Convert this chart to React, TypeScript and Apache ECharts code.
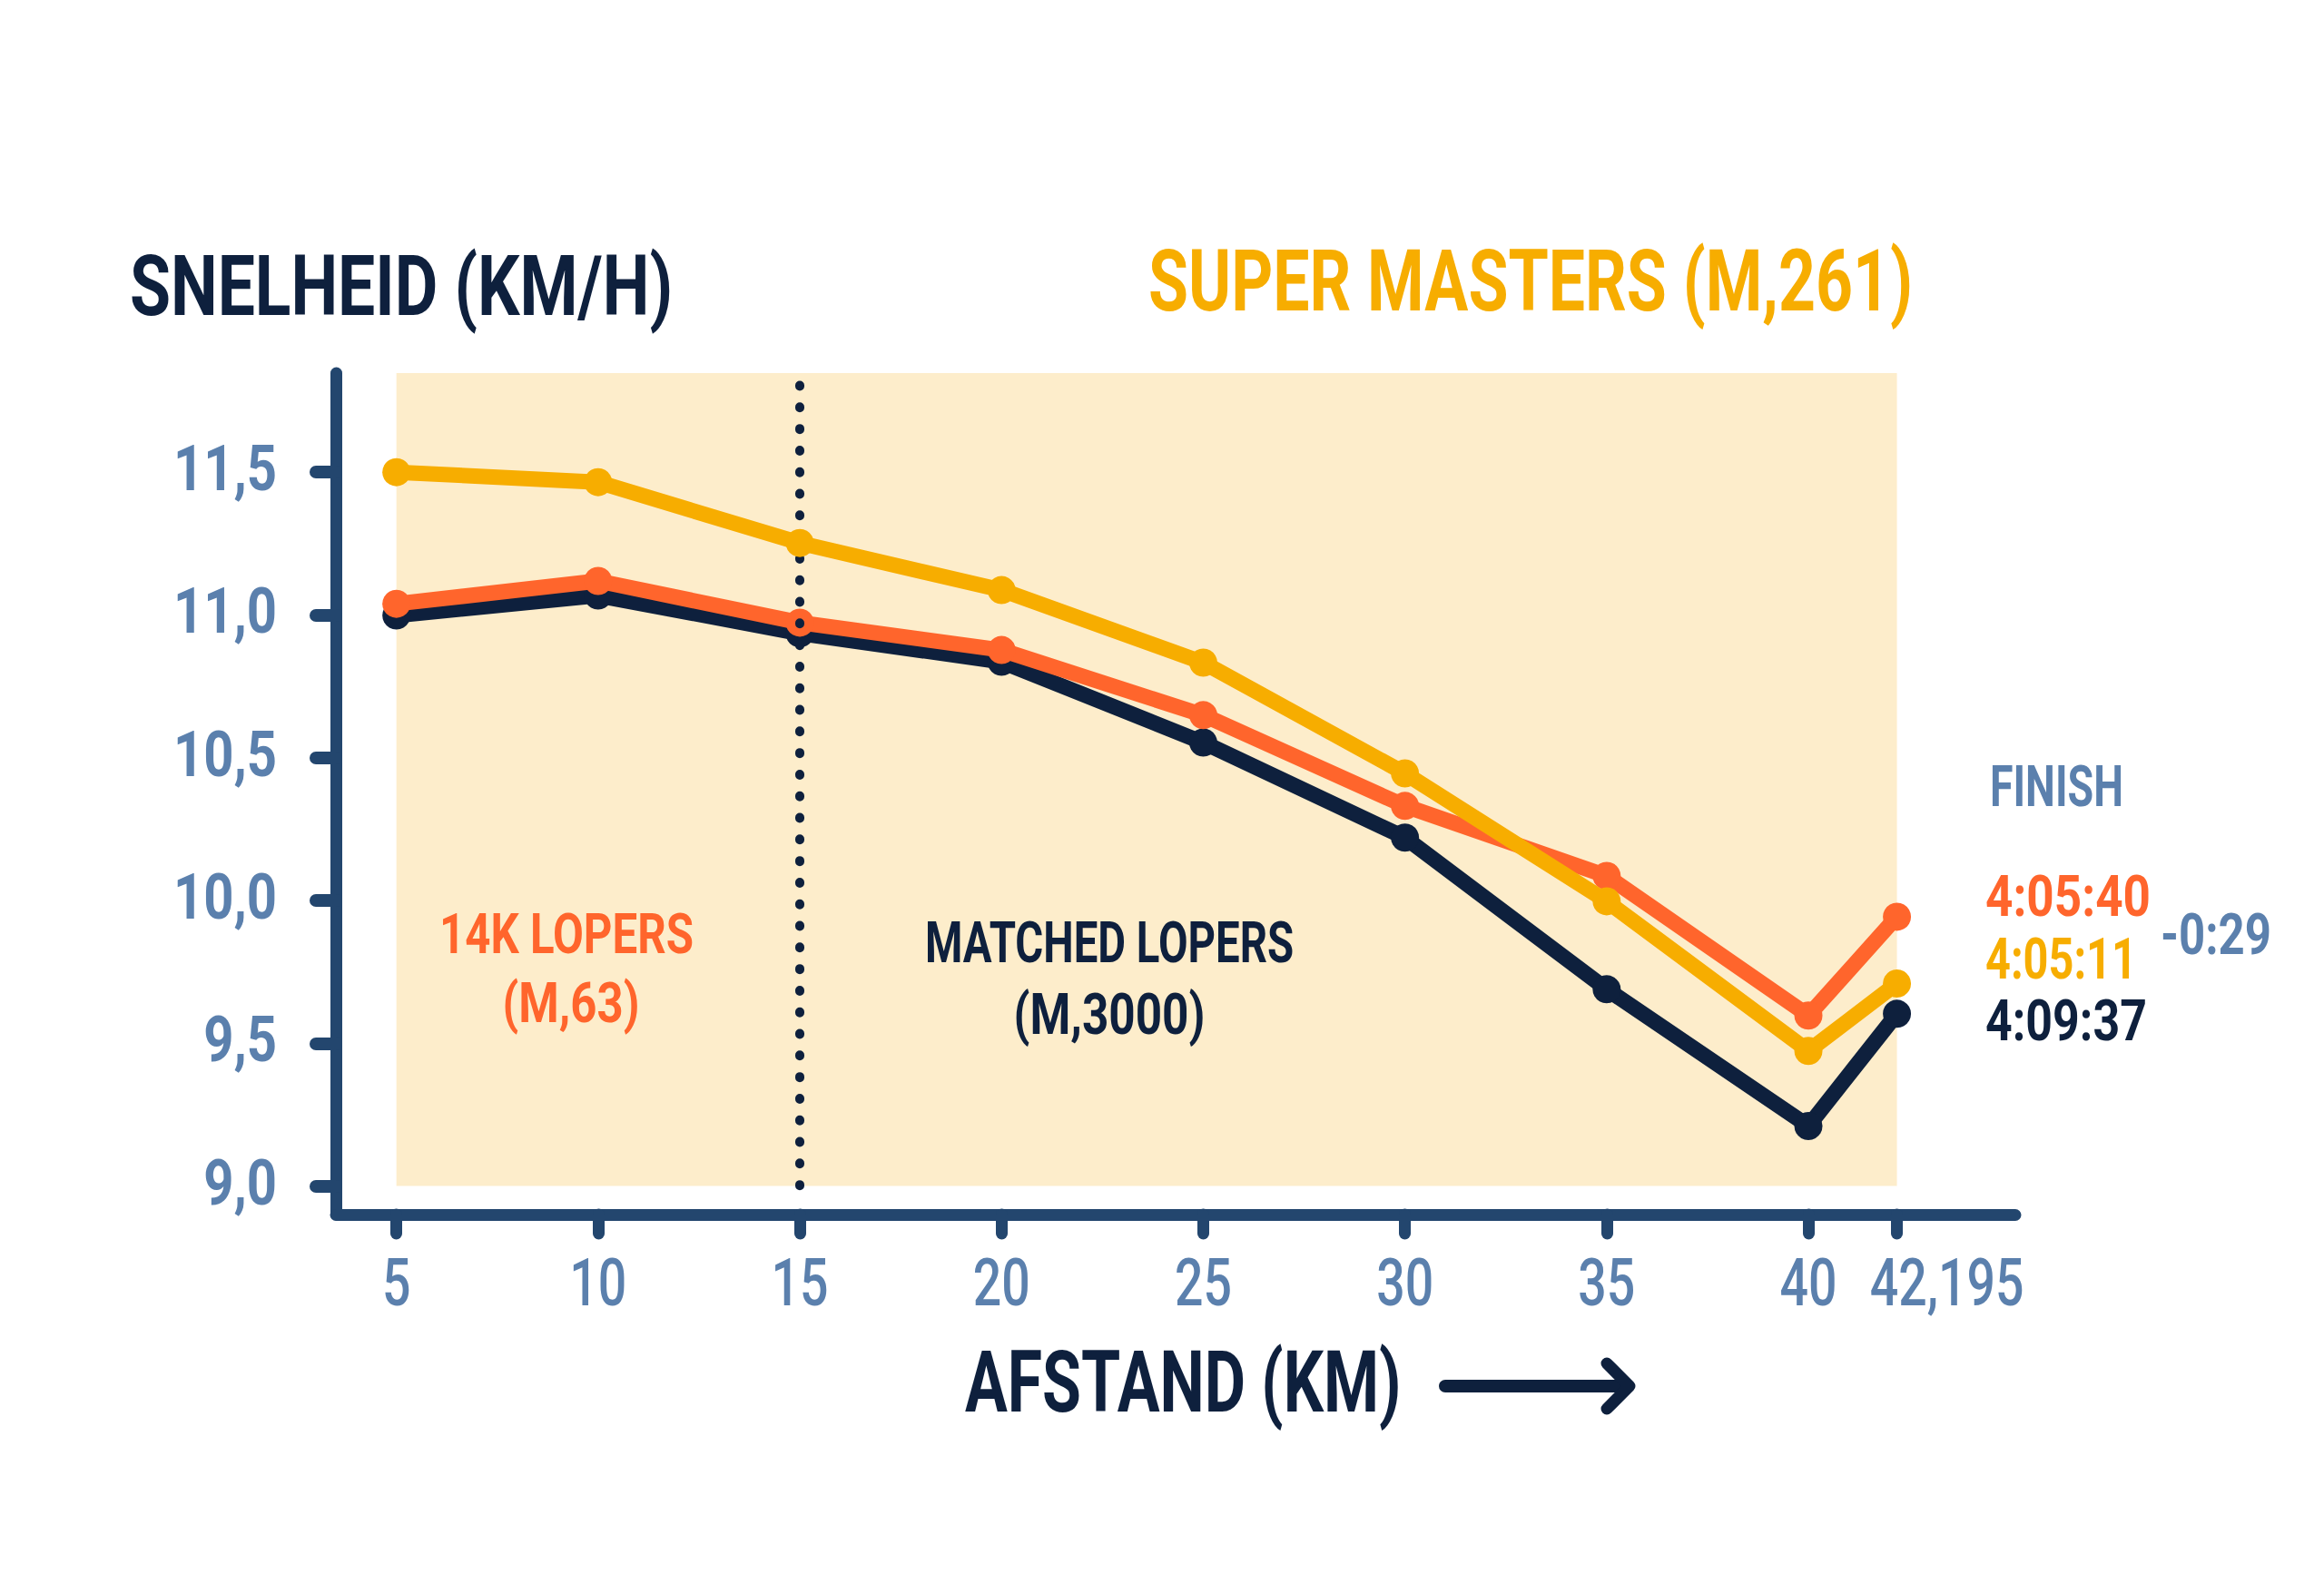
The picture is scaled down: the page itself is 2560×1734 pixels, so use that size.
import React, { useEffect, useRef } from 'react';
import * as echarts from 'echarts';

// ---- data ----
const distances = [5, 10, 15, 20, 25, 30, 35, 40, 42.195];
const xTickLabels = ['5', '10', '15', '20', '25', '30', '35', '40', '42,195'];
const superMasters = [11.5, 11.465, 11.252, 11.087, 10.833, 10.445, 9.997, 9.473, 9.709];
const lopers14k = [11.039, 11.119, 10.973, 10.877, 10.649, 10.331, 10.086, 9.597, 9.943];
const matchedLopers = [10.998, 11.068, 10.935, 10.836, 10.553, 10.22, 9.689, 9.21, 9.603];
const yTicks = [9.0, 9.5, 10.0, 10.5, 11.0, 11.5];
const yTickLabels = ['9,0', '9,5', '10,0', '10,5', '11,0', '11,5'];
const finishTimes = ['4:05:40', '4:05:11', '4:09:37'];
const finishDiff = '-0:29';
const splitKm = 15;

// ---- colours ----
const NAVY = '#0E203D';
const ORANGE = '#FF652C';
const YELLOW = '#F7AD00';
const AXIS = '#23466E';
const LABEL = '#5B80AD';
const BEIGE = '#FDEDCB';
const FONT = 'Roboto';

let ctx: CanvasRenderingContext2D | null = null;
function measure(text: string, font: string): number {
  if (!ctx) ctx = document.createElement('canvas').getContext('2d');
  ctx!.font = font;
  return ctx!.measureText(text).width;
}

function txt(
  text: string,
  x: number,
  y: number,
  w: number,
  size: number,
  weight: number,
  color: string,
  align: 'left' | 'center' | 'right'
) {
  const font = `${weight} ${size}px ${FONT}`;
  const m = measure(text, font) || 1;
  return {
    type: 'text',
    x,
    y,
    scaleX: w / m,
    silent: true,
    z: 10,
    style: {
      text,
      font,
      fill: color,
      align,
      verticalAlign: 'middle',
      textAlign: align,
      textVerticalAlign: 'middle',
    },
  };
}

function seriesLine(name: string, values: number[], color: string, z: number) {
  return {
    name,
    type: 'line',
    z,
    data: distances.map((d, i) => [d, values[i]]),
    symbol: 'circle',
    symbolSize: 31,
    showSymbol: true,
    itemStyle: { color },
    lineStyle: { color, width: 17, cap: 'round', join: 'round' },
    emphasis: { disabled: true },
    silent: true,
  };
}

export default function App() {
  const ref = useRef<HTMLDivElement>(null);

  useEffect(() => {
    if (!ref.current) return;
    const chart = echarts.init(ref.current, undefined, { renderer: 'svg' });
    const yMin = 8.9;
    const yMax = 11.847;
    chart.setOption({
      animation: false,
      backgroundColor: '#ffffff',
      grid: { left: 370, right: 340, top: 411, bottom: 396, containLabel: false },
      xAxis: {
        type: 'value',
        min: 3.5,
        max: 45.13,
        axisLine: { show: true, onZero: false, lineStyle: { color: AXIS, width: 13, cap: 'round' } },
        axisTick: {
          show: true,
          customValues: distances,
          length: 21,
          lineStyle: { color: AXIS, width: 13, cap: 'round' },
        },
        axisLabel: { show: false },
        splitLine: { show: false },
      },
      yAxis: {
        type: 'value',
        min: yMin,
        max: yMax,
        axisLine: { show: true, onZero: false, lineStyle: { color: AXIS, width: 13, cap: 'round' } },
        axisTick: {
          show: true,
          customValues: yTicks,
          length: 22,
          lineStyle: { color: AXIS, width: 14, cap: 'round' },
        },
        axisLabel: { show: false },
        splitLine: { show: false },
      },
      series: [
        {
          name: 'decor',
          type: 'line',
          z: 1,
          data: distances.map((d, i) => [d, matchedLopers[i]]),
          showSymbol: false,
          lineStyle: { opacity: 0 },
          silent: true,
          markArea: {
            silent: true,
            itemStyle: { color: BEIGE },
            data: [[{ coord: [distances[0], yTicks[0]] }, { coord: [distances[distances.length - 1], yMax] }]],
          },
          markLine: {
            silent: true,
            symbol: ['none', 'none'],
            label: { show: false },
            lineStyle: { color: NAVY, width: 10, type: [1, 22.8], cap: 'round' },
            data: [[{ coord: [splitKm, 11.804] }, { coord: [splitKm, 8.975] }]],
          },
        },
        seriesLine('Matched lopers (M,3000)', matchedLopers, NAVY, 3),
        seriesLine('14K lopers (M,63)', lopers14k, ORANGE, 4),
        seriesLine('Super Masters (M,261)', superMasters, YELLOW, 5),
      ],
    });

    const px = (x: number, y: number) => chart.convertToPixel({ gridIndex: 0 }, [x, y]) as number[];
    const graphics: any[] = [];

    // y tick labels
    const yFont = `700 70px ${FONT}`;
    const yScale = 114 / measure('10,0', yFont);
    yTicks.forEach((v, i) => {
      const p = px(distances[0], v);
      const g = txt(yTickLabels[i], 305, p[1] - 4, 1, 70, 700, LABEL, 'right');
      g.scaleX = yScale;
      graphics.push(g);
    });
    // x tick labels
    const xFont = `500 73px ${FONT}`;
    const xScale = 63 / measure('20', xFont);
    distances.forEach((d, i) => {
      const p = px(d, yTicks[0]);
      const last = i === distances.length - 1;
      const g = txt(xTickLabels[i], p[0] + (last ? 55 : 0), 1413, 1, 73, 500, LABEL, 'center');
      g.scaleX = xScale;
      graphics.push(g);
    });

    // titles
    graphics.push(txt('SNELHEID (KM/H)', 143, 315, 598, 93, 700, NAVY, 'left'));
    graphics.push(txt('SUPER MASTERS (M,261)', 1265, 310, 842, 94, 700, YELLOW, 'left'));
    graphics.push(txt('AFSTAND (KM)', 1063, 1523, 481, 94, 700, NAVY, 'left'));
    // arrow
    graphics.push({
      type: 'line',
      silent: true,
      shape: { x1: 1592, y1: 1527, x2: 1792, y2: 1527 },
      style: { stroke: NAVY, lineWidth: 14, lineCap: 'round' },
    });
    graphics.push({
      type: 'polyline',
      silent: true,
      shape: { points: [[1770, 1502], [1795, 1527], [1770, 1552]] },
      style: { stroke: NAVY, lineWidth: 13, lineCap: 'round', lineJoin: 'round', fill: null },
    });

    // group annotations
    graphics.push(txt('14K LOPERS', 624, 1029, 280, 62, 700, ORANGE, 'center'));
    graphics.push(txt('(M,63)', 629, 1105, 151, 62, 700, ORANGE, 'center'));
    graphics.push(txt('MATCHED LOPERS', 1222, 1039, 406, 63, 700, NAVY, 'center'));
    graphics.push(txt('(M,3000)', 1222, 1118, 211, 63, 700, NAVY, 'center'));

    // finish block
    graphics.push(txt('FINISH', 2192, 867, 147, 63, 700, LABEL, 'left'));
    graphics.push(txt(finishTimes[0], 2187, 987, 182, 63, 700, ORANGE, 'left'));
    graphics.push(txt(finishTimes[1], 2187, 1057, 167, 63, 700, YELLOW, 'left'));
    graphics.push(txt(finishTimes[2], 2187, 1124, 178, 63, 700, NAVY, 'left'));
    graphics.push(txt(finishDiff, 2380, 1030, 122, 63, 700, LABEL, 'left'));

    chart.setOption({ graphic: graphics });

    return () => chart.dispose();
  }, []);

  return (
    <div
      ref={ref}
      style={{ position: 'fixed', left: 0, top: 0, width: 2560, height: 1734, background: '#fff' }}
    />
  );
}
